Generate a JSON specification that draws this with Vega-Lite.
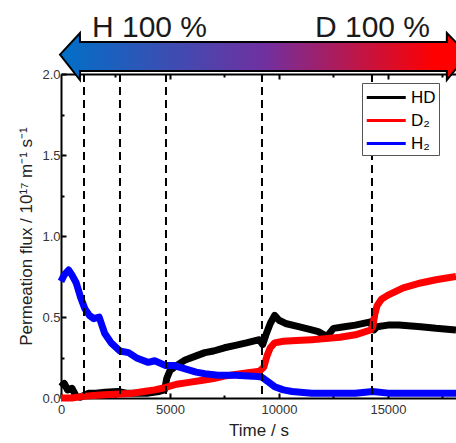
{
  "$schema": "https://vega.github.io/schema/vega-lite/v6.json",
  "width": 395,
  "height": 324,
  "autosize": {"type": "none"},
  "padding": {"left": 61, "top": 74, "right": 0, "bottom": 45},
  "background": "white",
  "config": {
    "view": {"stroke": null},
    "font": "Arial",
    "axis": {
      "domainColor": "black",
      "domainWidth": 2,
      "tickColor": "black",
      "tickWidth": 2,
      "grid": false,
      "labelFont": "Arial",
      "labelFontSize": 13,
      "labelColor": "#333333",
      "labelFlush": false,
      "titleFont": "Arial",
      "titleFontSize": 17,
      "titleFontWeight": "normal",
      "titleColor": "#222222"
    }
  },
  "layer": [
    {
      "data": {
        "values": [
          {"s": "HD", "t": 0, "v": 0.07}, {"s": "HD", "t": 150, "v": 0.09}, {"s": "HD", "t": 300, "v": 0.05},
          {"s": "HD", "t": 500, "v": 0.06}, {"s": "HD", "t": 700, "v": 0.01}, {"s": "HD", "t": 900, "v": 0.005},
          {"s": "HD", "t": 1100, "v": 0.02}, {"s": "HD", "t": 1300, "v": 0.03}, {"s": "HD", "t": 1600, "v": 0.03},
          {"s": "HD", "t": 2000, "v": 0.035}, {"s": "HD", "t": 2600, "v": 0.04}, {"s": "HD", "t": 3000, "v": 0.03},
          {"s": "HD", "t": 3500, "v": 0.03}, {"s": "HD", "t": 4000, "v": 0.03}, {"s": "HD", "t": 4500, "v": 0.04},
          {"s": "HD", "t": 4750, "v": 0.05}, {"s": "HD", "t": 4850, "v": 0.12}, {"s": "HD", "t": 5000, "v": 0.17},
          {"s": "HD", "t": 5300, "v": 0.2}, {"s": "HD", "t": 5700, "v": 0.235}, {"s": "HD", "t": 6200, "v": 0.26},
          {"s": "HD", "t": 6600, "v": 0.28}, {"s": "HD", "t": 7000, "v": 0.29}, {"s": "HD", "t": 7500, "v": 0.31},
          {"s": "HD", "t": 8000, "v": 0.325}, {"s": "HD", "t": 8500, "v": 0.34}, {"s": "HD", "t": 9100, "v": 0.36},
          {"s": "HD", "t": 9250, "v": 0.33}, {"s": "HD", "t": 9400, "v": 0.39}, {"s": "HD", "t": 9600, "v": 0.46},
          {"s": "HD", "t": 9800, "v": 0.51}, {"s": "HD", "t": 10000, "v": 0.48}, {"s": "HD", "t": 10300, "v": 0.46},
          {"s": "HD", "t": 10900, "v": 0.44}, {"s": "HD", "t": 11500, "v": 0.42}, {"s": "HD", "t": 11800, "v": 0.41},
          {"s": "HD", "t": 12200, "v": 0.38}, {"s": "HD", "t": 12500, "v": 0.43}, {"s": "HD", "t": 13000, "v": 0.44},
          {"s": "HD", "t": 13500, "v": 0.45}, {"s": "HD", "t": 14200, "v": 0.47}, {"s": "HD", "t": 14350, "v": 0.42},
          {"s": "HD", "t": 14500, "v": 0.44}, {"s": "HD", "t": 15000, "v": 0.45}, {"s": "HD", "t": 15500, "v": 0.45},
          {"s": "HD", "t": 16500, "v": 0.44}, {"s": "HD", "t": 17200, "v": 0.43}, {"s": "HD", "t": 18120, "v": 0.42},

          {"s": "D₂", "t": 0, "v": 0.0}, {"s": "D₂", "t": 500, "v": 0.0}, {"s": "D₂", "t": 1000, "v": 0.01},
          {"s": "D₂", "t": 1500, "v": 0.015}, {"s": "D₂", "t": 2000, "v": 0.02}, {"s": "D₂", "t": 2700, "v": 0.025},
          {"s": "D₂", "t": 3300, "v": 0.03}, {"s": "D₂", "t": 3800, "v": 0.04}, {"s": "D₂", "t": 4300, "v": 0.05},
          {"s": "D₂", "t": 4800, "v": 0.065}, {"s": "D₂", "t": 5300, "v": 0.085}, {"s": "D₂", "t": 5800, "v": 0.095},
          {"s": "D₂", "t": 6500, "v": 0.11}, {"s": "D₂", "t": 7000, "v": 0.12}, {"s": "D₂", "t": 7500, "v": 0.135},
          {"s": "D₂", "t": 8000, "v": 0.145}, {"s": "D₂", "t": 8500, "v": 0.155}, {"s": "D₂", "t": 9100, "v": 0.165},
          {"s": "D₂", "t": 9300, "v": 0.19}, {"s": "D₂", "t": 9450, "v": 0.26}, {"s": "D₂", "t": 9600, "v": 0.31},
          {"s": "D₂", "t": 9800, "v": 0.34}, {"s": "D₂", "t": 10200, "v": 0.35}, {"s": "D₂", "t": 10800, "v": 0.355},
          {"s": "D₂", "t": 11500, "v": 0.36}, {"s": "D₂", "t": 12000, "v": 0.365}, {"s": "D₂", "t": 12800, "v": 0.375},
          {"s": "D₂", "t": 13500, "v": 0.39}, {"s": "D₂", "t": 14200, "v": 0.42}, {"s": "D₂", "t": 14300, "v": 0.44},
          {"s": "D₂", "t": 14400, "v": 0.52}, {"s": "D₂", "t": 14500, "v": 0.57}, {"s": "D₂", "t": 14700, "v": 0.61},
          {"s": "D₂", "t": 15000, "v": 0.635}, {"s": "D₂", "t": 15700, "v": 0.68}, {"s": "D₂", "t": 16500, "v": 0.71},
          {"s": "D₂", "t": 17200, "v": 0.73}, {"s": "D₂", "t": 18120, "v": 0.75},

          {"s": "H₂", "t": 0, "v": 0.72}, {"s": "H₂", "t": 150, "v": 0.76}, {"s": "H₂", "t": 350, "v": 0.79},
          {"s": "H₂", "t": 500, "v": 0.76}, {"s": "H₂", "t": 700, "v": 0.71}, {"s": "H₂", "t": 900, "v": 0.62},
          {"s": "H₂", "t": 1100, "v": 0.55}, {"s": "H₂", "t": 1300, "v": 0.51}, {"s": "H₂", "t": 1500, "v": 0.49},
          {"s": "H₂", "t": 1750, "v": 0.5}, {"s": "H₂", "t": 2000, "v": 0.4}, {"s": "H₂", "t": 2300, "v": 0.34},
          {"s": "H₂", "t": 2700, "v": 0.29}, {"s": "H₂", "t": 3100, "v": 0.28}, {"s": "H₂", "t": 3500, "v": 0.245},
          {"s": "H₂", "t": 4000, "v": 0.22}, {"s": "H₂", "t": 4300, "v": 0.23}, {"s": "H₂", "t": 4800, "v": 0.2},
          {"s": "H₂", "t": 5200, "v": 0.2}, {"s": "H₂", "t": 5700, "v": 0.18}, {"s": "H₂", "t": 6200, "v": 0.16},
          {"s": "H₂", "t": 6600, "v": 0.15}, {"s": "H₂", "t": 7200, "v": 0.14}, {"s": "H₂", "t": 8000, "v": 0.14},
          {"s": "H₂", "t": 8800, "v": 0.135}, {"s": "H₂", "t": 9200, "v": 0.13}, {"s": "H₂", "t": 9500, "v": 0.1},
          {"s": "H₂", "t": 9800, "v": 0.07}, {"s": "H₂", "t": 10200, "v": 0.05}, {"s": "H₂", "t": 10600, "v": 0.04},
          {"s": "H₂", "t": 11500, "v": 0.03}, {"s": "H₂", "t": 12500, "v": 0.03}, {"s": "H₂", "t": 13500, "v": 0.03},
          {"s": "H₂", "t": 14300, "v": 0.04}, {"s": "H₂", "t": 15000, "v": 0.03}, {"s": "H₂", "t": 16000, "v": 0.03},
          {"s": "H₂", "t": 17000, "v": 0.03}, {"s": "H₂", "t": 18120, "v": 0.03}
        ]
      },
      "mark": {"type": "line", "strokeWidth": 7, "strokeJoin": "round"},
      "encoding": {
        "x": {
          "field": "t", "type": "quantitative",
          "scale": {"domain": [0, 18120], "nice": false, "zero": false},
          "axis": {"orient": "bottom", "values": [2500, 7500, 12500, 17500], "labels": false, "domain": false, "tickSize": -3, "title": null}
        },
        "y": {
          "field": "v", "type": "quantitative",
          "scale": {"domain": [0, 2], "nice": false},
          "axis": {"orient": "left", "values": [0, 0.5, 1, 1.5, 2], "format": ".1f", "tickSize": -5, "labelPadding": 6, "title": "Permeation flux / 10¹⁷ m⁻¹ s⁻¹", "titlePadding": 6}
        },
        "color": {
          "field": "s", "type": "nominal",
          "scale": {"domain": ["HD", "D₂", "H₂"], "range": ["#000000", "#ff0000", "#0000ff"]},
          "legend": {
            "title": null, "orient": "none", "legendX": 301, "legendY": 9,
            "symbolType": "M-1,0H3", "symbolSize": 380, "symbolStrokeWidth": 3,
            "labelFont": "Arial", "labelFontSize": 17, "labelColor": "black", "labelOffset": 23,
            "rowPadding": 3,
            "strokeColor": "#555555", "fillColor": "white", "padding": 3
          }
        },
        "order": {"field": "t", "type": "quantitative"}
      }
    },
    {
      "data": {"values": [{"t": 1055}, {"t": 2706}, {"t": 4816}, {"t": 9220}, {"t": 14266}]},
      "mark": {"type": "rule", "strokeDash": [8, 5], "strokeWidth": 2, "color": "black"},
      "encoding": {
        "x": {
          "field": "t", "type": "quantitative",
          "axis": {"orient": "bottom", "values": [0, 5000, 10000, 15000], "format": "d", "tickSize": -5, "labelPadding": 10, "title": "Time / s", "titlePadding": 6}
        }
      }
    },
    {
      "data": {
        "values": [
          {"t": -46, "top": 2.12, "bot": 2.12},
          {"t": 869, "top": 2.253, "bot": 1.963},
          {"t": 871, "top": 2.198, "bot": 2.019},
          {"t": 17699, "top": 2.198, "bot": 2.019},
          {"t": 17701, "top": 2.253, "bot": 1.963},
          {"t": 18670, "top": 2.12, "bot": 2.12}
        ]
      },
      "mark": {
        "type": "area", "clip": false, "stroke": "black", "strokeWidth": 2,
        "fill": {"gradient": "linear", "x1": 0, "y1": 0, "x2": 1, "y2": 0,
          "stops": [{"offset": 0, "color": "#0070c8"}, {"offset": 0.5, "color": "#7030a0"}, {"offset": 0.92, "color": "#ff0000"}, {"offset": 1, "color": "#ff0000"}]}
      },
      "encoding": {
        "x": {"field": "t", "type": "quantitative", "axis": {"orient": "top", "values": [5000, 10000, 15000], "labels": false, "tickSize": -5, "title": null}},
        "y": {"field": "top", "type": "quantitative", "axis": {"orient": "left", "values": [0.25, 0.75, 1.25, 1.75], "labels": false, "domain": false, "tickSize": -3, "title": null}},
        "y2": {"field": "bot"}
      }
    },
    {
      "data": {"values": [{"label": "H 100 %", "t": 1420, "v": 2.228}, {"label": "D 100 %", "t": 11650, "v": 2.228}]},
      "mark": {"type": "text", "clip": false, "align": "left", "baseline": "alphabetic", "fontSize": 30, "font": "Arial", "color": "#1a1a1a"},
      "encoding": {
        "x": {"field": "t", "type": "quantitative", "axis": {"orient": "top", "values": [2500, 7500, 12500, 17500], "labels": false, "domain": false, "tickSize": -3, "title": null}},
        "y": {"field": "v", "type": "quantitative", "axis": null},
        "text": {"field": "label"}
      }
    }
  ],
  "resolve": {"axis": {"x": "independent", "y": "independent"}}
}
